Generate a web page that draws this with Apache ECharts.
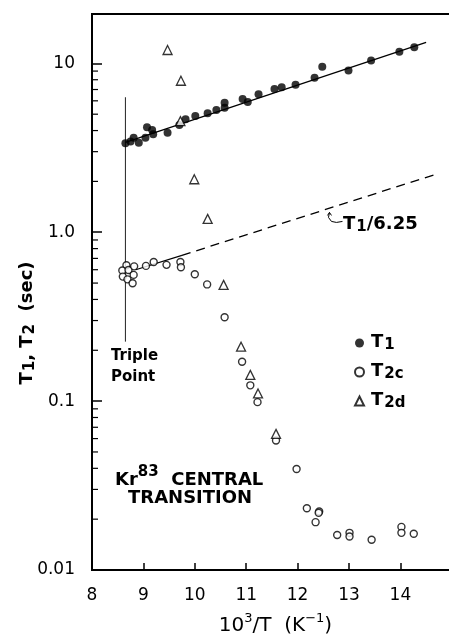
<!DOCTYPE html>
<html><head><meta charset="utf-8">
<script src="https://cdn.jsdelivr.net/npm/echarts@6/dist/echarts.min.js"></script>
<style>html,body{margin:0;padding:0;background:#fff}#c{width:449px;height:634px}</style>
</head><body><div id="c"></div>
<script>
// ---- data ----
const t1X = [8.65,8.75,8.81,8.91,9.04,9.07,9.17,9.19,9.47,9.70,9.82,10.01,10.25,10.42,10.58,10.58,10.93,11.03,11.24,11.55,11.69,11.96,12.33,12.48,12.99,13.43,13.98,14.27];
const t1Y = [3.36,3.44,3.63,3.39,3.63,4.18,4.03,3.80,3.88,4.32,4.67,4.88,5.06,5.30,5.46,5.85,6.15,5.90,6.56,7.05,7.21,7.47,8.22,9.55,9.07,10.4,11.7,12.45];
const t2cX = [8.67,8.59,8.71,8.82,8.60,8.81,8.69,8.79,9.05,9.20,9.45,9.72,9.73,10.00,10.24,10.58,10.92,11.08,11.22,11.58,11.98,12.18,12.42,12.41,12.35,12.77,13.01,13.01,13.44,14.02,14.02,14.26];
const t2cY = [0.637,0.594,0.598,0.628,0.546,0.559,0.526,0.499,0.632,0.667,0.641,0.667,0.621,0.564,0.491,0.314,0.171,0.124,0.0986,0.0585,0.0396,0.0232,0.0222,0.0218,0.0192,0.0161,0.0166,0.0158,0.0151,0.0180,0.0166,0.0164];
const t2dX = [9.47,9.73,9.72,9.99,10.25,10.56,10.90,11.08,11.23,11.58];
const t2dY = [12.0,7.89,4.55,2.06,1.20,0.488,0.210,0.143,0.111,0.064];
const fitX = [8.65,14.5];
const fitY = [3.4,13.3];
const ratioSolidX = [8.85,9.75];
const ratioSolidY = [0.60,0.73];
const ratioDashX = [9.75,14.68];
const ratioDashY = [0.73,2.2];
const tripleX = [8.65,8.65];
const tripleY = [6.3,0.225];
const ratioLabelAt = [12.62,1.31];
const xMin = 8, xMax = 15.14, xInterval = 1, xLastLabel = 14;
const yMin = 0.01, yMax = 19.6;
const yTickValues = [0.01,0.1,1,10];
const yTickLabels = ['0.01','0.1','1.0','10'];
const yMinorTicks = [0.02,0.03,0.04,0.05,0.06,0.07,0.08,0.09,0.2,0.3,0.4,0.5,0.6,0.7,0.8,0.9,2,3,4,5,6,7,8,9];

const zip = (a,b) => a.map((v,i)=>[v,b[i]]);
const FF = '"DejaVu Sans", sans-serif';
const chart = echarts.init(document.getElementById('c'), null, {renderer:'canvas'});
const subRich = {
  t:{fontFamily:FF,fontSize:18,fontWeight:'bold',color:'#000',verticalAlign:'top',lineHeight:20},
  s:{fontFamily:FF,fontSize:15,fontWeight:'bold',color:'#000',verticalAlign:'bottom',lineHeight:16,padding:[9,0,0,1]}
};
const subRichG = {
  t:{font:'bold 18px "DejaVu Sans"',fill:'#000',verticalAlign:'top',lineHeight:20},
  s:{font:'bold 15px "DejaVu Sans"',fill:'#000',verticalAlign:'bottom',lineHeight:16,padding:[9,0,0,1]}
};
chart.setOption({
  animation:false,
  backgroundColor:'#fff',
  grid:{left:92,right:-10,top:14,bottom:64,show:true,borderColor:'#000',borderWidth:2,
        containLabel:false, outerBoundsMode:'none'},
  legend:{
    orient:'vertical', left:349, top:324, itemWidth:9, itemHeight:9, itemGap:5,
    data:['T1','T2c','T2d'],
    formatter: n => '{t|T}{s|' + n.slice(1) + '}',
    textStyle:{rich:subRich, padding:[0,0,0,2]}
  },
  xAxis:{
    type:'value', min:xMin, max:xMax, interval:xInterval,
    axisLine:{lineStyle:{color:'#000',width:2}},
    axisTick:{inside:true,length:7,lineStyle:{color:'#000',width:1.5}},
    axisLabel:{margin:17,color:'#000',fontFamily:FF,fontSize:17,
      formatter:v => (Math.abs(v-Math.round(v))<1e-6 && v<=xLastLabel) ? String(Math.round(v)) : ''},
    splitLine:{show:false},
    name:'{a|10}{b|3}{a|/T  (K}{b|−1}{a|)}', nameLocation:'middle', nameGap:42,
    nameTextStyle:{rich:{a:{fontFamily:FF,fontSize:20,color:'#000',verticalAlign:'bottom',lineHeight:24},b:{fontFamily:FF,fontSize:13,color:'#000',verticalAlign:'top',lineHeight:14}}}
  },
  yAxis:{
    type:'log', min:yMin, max:yMax, logBase:10,
    axisLine:{lineStyle:{color:'#000',width:2}},
    axisTick:{inside:true,length:10,lineStyle:{color:'#000',width:1.5}},
    axisLabel:{margin:17,color:'#000',fontFamily:FF,fontSize:17,
      formatter:v => { for (let i=0;i<yTickValues.length;i++){ if (Math.abs(Math.log10(v)-Math.log10(yTickValues[i]))<1e-6) return yTickLabels[i]; } return ''; }},
    splitLine:{show:false}
  },
  graphic:[
    {type:'text', x:28, y:323, rotation:Math.PI/2, style:{text:'{t|T}{s|1}{t|, T}{s|2}{t|  (sec)}', rich:subRichG, align:'center', verticalAlign:'middle'}},
    {type:'text', left:111, top:349, style:{text:'Triple', font:'bold 15px "DejaVu Sans"', fill:'#000'}},
    {type:'text', left:111, top:370, style:{text:'Point', font:'bold 15px "DejaVu Sans"', fill:'#000'}},
    {type:'text', left:115, top:465, style:{text:'{a|Kr}{b|83}{a|  CENTRAL}', rich:{a:{font:'bold 18px "DejaVu Sans"',fill:'#000',verticalAlign:'bottom',lineHeight:24},b:{font:'bold 15px "DejaVu Sans"',fill:'#000',verticalAlign:'top',lineHeight:15}}}},
    {type:'text', left:128, top:489, style:{text:'TRANSITION', font:'bold 18px "DejaVu Sans"', fill:'#000'}},
    {type:'text', left:343, top:211, style:{text:'{t|T}{s|1}{t|/6.25}', rich:subRichG}}
  ],
  series:[
    {name:'triple', type:'line', data:zip(tripleX,tripleY), symbol:'none', silent:true, lineStyle:{color:'#222',width:1}, z:1},
    {name:'fit', type:'line', data:zip(fitX,fitY), symbol:'none', silent:true, lineStyle:{color:'#000',width:1.3}, z:2},
    {name:'ratioSolid', type:'line', data:zip(ratioSolidX,ratioSolidY), symbol:'none', silent:true, lineStyle:{color:'#000',width:1.2}, z:2},
    {name:'ratioDash', type:'line', data:zip(ratioDashX,ratioDashY), symbol:'none', silent:true, lineStyle:{color:'#000',width:1.3,type:[9,6]}, z:2},
    {name:'minor', type:'custom', silent:true, clip:false, z:5,
      data: yMinorTicks.map(v=>[xMin,v]),
      renderItem:(params, api) => { const p = api.coord([api.value(0), api.value(1)]);
        return {type:'line', shape:{x1:p[0], y1:p[1], x2:p[0]+6, y2:p[1]}, style:{stroke:'#000', lineWidth:1.2}}; }},
    {name:'leader', type:'custom', silent:true, clip:false, z:5,
      data:[ratioLabelAt],
      renderItem:(params, api) => { const p = api.coord([api.value(0), api.value(1)]);
        return {type:'group', children:[
          {type:'polyline', shape:{points:[[p[0],p[1]],[p[0]-1,p[1]+5],[p[0]+2,p[1]+9],[p[0]+7,p[1]+10],[p[0]+13,p[1]+9]]}, style:{stroke:'#000',lineWidth:1,fill:null}},
          {type:'polyline', shape:{points:[[p[0]-2,p[1]+3],[p[0],p[1]],[p[0]+2,p[1]+3]]}, style:{stroke:'#000',lineWidth:1,fill:null}}
        ]}; }},
    {name:'T1', type:'scatter', data:zip(t1X,t1Y), symbol:'circle', symbolSize:8, itemStyle:{color:'#000'}, z:4},
    {name:'T2c', type:'scatter', data:zip(t2cX,t2cY), symbol:'circle', symbolSize:7, itemStyle:{color:'#fff',borderColor:'#000',borderWidth:1.4}, z:4},
    {name:'T2d', type:'scatter', data:zip(t2dX,t2dY), symbol:'triangle', symbolSize:9, itemStyle:{color:'#fff',borderColor:'#000',borderWidth:1.3}, z:4}
  ]
});
</script></body></html>
